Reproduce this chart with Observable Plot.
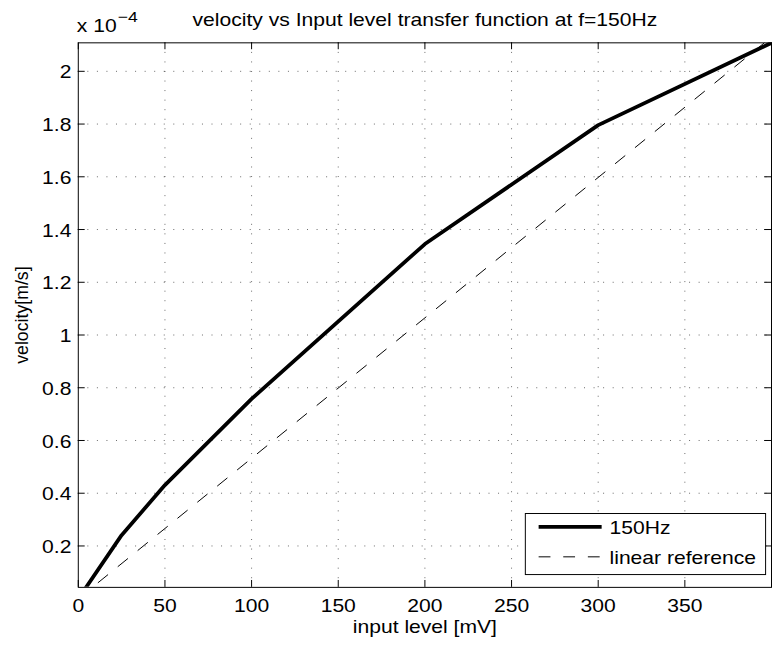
<!DOCTYPE html>
<html>
<head>
<meta charset="utf-8">
<script src="https://cdn.jsdelivr.net/npm/d3@7"></script>
<script src="https://cdn.jsdelivr.net/npm/@observablehq/plot@0.6"></script>
<style>
  html, body { margin: 0; padding: 0; background: #fff; overflow: hidden; }
  #wrap { width: 772px; height: 656px; overflow: hidden; position: relative; background: #fff; }
  svg text { font-family: "Liberation Sans", Arial, Helvetica, sans-serif; }
</style>
</head>
<body>
<div id="wrap"></div>
<script>
// ---- data (velocity in units of 1e-4 m/s) ----
const inputLevel = [4.5, 25, 50, 100, 200, 300, 400];
const velocity150 = [0.043, 0.241, 0.431, 0.758, 1.345, 1.796, 2.108];
const refInput = [0, 400];
const refVelocity = [0, 2.13];
const xTicks = [0, 50, 100, 150, 200, 250, 300, 350, 400];
const xTickLabels = [0, 50, 100, 150, 200, 250, 300, 350];
const yTicks = [0.2, 0.4, 0.6, 0.8, 1, 1.2, 1.4, 1.6, 1.8, 2];
const titleText = "velocity vs Input level transfer function at f=150Hz";
const xLabel = "input level [mV]";
const yLabel = "velocity[m/s]";
const multiplierBase = "x 10";
const multiplierExp = "\u22124";
const seriesNames = ["150Hz", "linear reference"];

const mainData = inputLevel.map((x, i) => ({x, y: velocity150[i]}));
const refData = refInput.map((x, i) => ({x, y: refVelocity[i]}));

const W = 784, H = 656, ML = 79, MR = 1, MT = 43, MB = 60;
const PW = W - ML - MR, PH = H - MT - MB;
const TL = 7; // inward tick length
const FS = 18;

const svg = Plot.plot({
  width: W, height: H,
  marginLeft: ML, marginRight: MR, marginTop: MT, marginBottom: MB,
  style: {background: "#fff", color: "#000", fontSize: FS + "px", fontFamily: "'Liberation Sans', Arial, sans-serif"},
  x: {domain: [0, 400], axis: null},
  y: {domain: [0.043, 2.108], axis: null},
  marks: [
    Plot.gridX(xTicks.slice(1), {stroke: "#000", strokeOpacity: 0.6, strokeDasharray: "1,8.7"}),
    Plot.gridY(yTicks, {stroke: "#000", strokeOpacity: 0.6, strokeDasharray: "1,8.7"}),
    Plot.line(refData, {x: "x", y: "y", stroke: "#000", strokeWidth: 1, strokeDasharray: "12.5,13.5", clip: true}),
    Plot.line(mainData, {x: "x", y: "y", stroke: "#000", strokeWidth: 3.8, clip: true}),
    Plot.frame({stroke: "#000", strokeWidth: 1}),
    Plot.ruleX(xTicks, {x: d => d, insetTop: PH - TL, stroke: "#000"}),
    Plot.ruleX(xTicks, {x: d => d, insetBottom: PH - TL, stroke: "#000"}),
    Plot.ruleY(yTicks, {y: d => d, insetRight: PW - TL, stroke: "#000"}),
    Plot.ruleY(yTicks, {y: d => d, insetLeft: PW - TL, stroke: "#000"}),
    // tick labels
    Plot.text(xTickLabels, {x: d => d, text: d => String(d), frameAnchor: "bottom", textAnchor: "middle", lineAnchor: "middle", dy: 19.7, fontSize: FS}),
    Plot.text(yTicks, {y: d => d, text: d => String(d), frameAnchor: "left", textAnchor: "end", lineAnchor: "middle", dx: -7, dy: 1.5, fontSize: FS}),
    // titles
    Plot.text([titleText], {frameAnchor: "top", textAnchor: "middle", lineAnchor: "middle", dy: -22.8, fontSize: FS}),
    Plot.text([xLabel], {frameAnchor: "bottom", textAnchor: "middle", lineAnchor: "middle", dy: 40.2, fontSize: FS}),
    Plot.text([yLabel], {frameAnchor: "left", textAnchor: "middle", lineAnchor: "middle", rotate: -90, dx: -56.8, fontSize: FS})
  ]
});

document.getElementById("wrap").appendChild(svg);
const root = d3.select(svg);

// horizontal stretch of glyphs to match reference's wide lettering
const SX = 1.19;
root.selectAll("text").each(function() {
  const t = this;
  const tr = t.getAttribute("transform") || "";
  if (tr.includes("rotate")) return;
  const len = t.getComputedTextLength();
  if (len > 0) {
    t.setAttribute("textLength", (len * SX).toFixed(2));
    t.setAttribute("lengthAdjust", "spacingAndGlyphs");
  }
});

// exponent multiplier (single text element with superscript)
const mult = root.append("text")
  .attr("transform", `translate(78,33) scale(${SX},1)`)
  .attr("text-anchor", "start")
  .attr("font-size", FS)
  .attr("fill", "#000");
mult.append("tspan").attr("x", 0).attr("y", 0).text(multiplierBase);
mult.append("tspan").attr("dx", 1).attr("dy", -11).attr("font-size", 15).text(multiplierExp);

// legend
const lg = root.append("g").attr("class", "legend").attr("text-anchor", "start");
lg.append("rect").attr("x", 533.5).attr("y", 521.5).attr("width", 244).attr("height", 62)
  .attr("fill", "#fff").attr("stroke", "#000").attr("stroke-width", 1);
lg.append("line").attr("x1", 547).attr("x2", 611).attr("y1", 535).attr("y2", 535)
  .attr("stroke", "#000").attr("stroke-width", 3.8);
lg.append("line").attr("x1", 547).attr("x2", 611).attr("y1", 565.5).attr("y2", 565.5)
  .attr("stroke", "#000").attr("stroke-width", 1).attr("stroke-dasharray", "12,13");
[[seriesNames[0], 542.5], [seriesNames[1], 572.5]].forEach(([s, y]) => {
  lg.append("text")
    .attr("transform", `translate(619,${y}) scale(${SX},1)`)
    .attr("text-anchor", "start")
    .attr("font-size", FS)
    .attr("fill", "#000")
    .text(s);
});
</script>
</body>
</html>
